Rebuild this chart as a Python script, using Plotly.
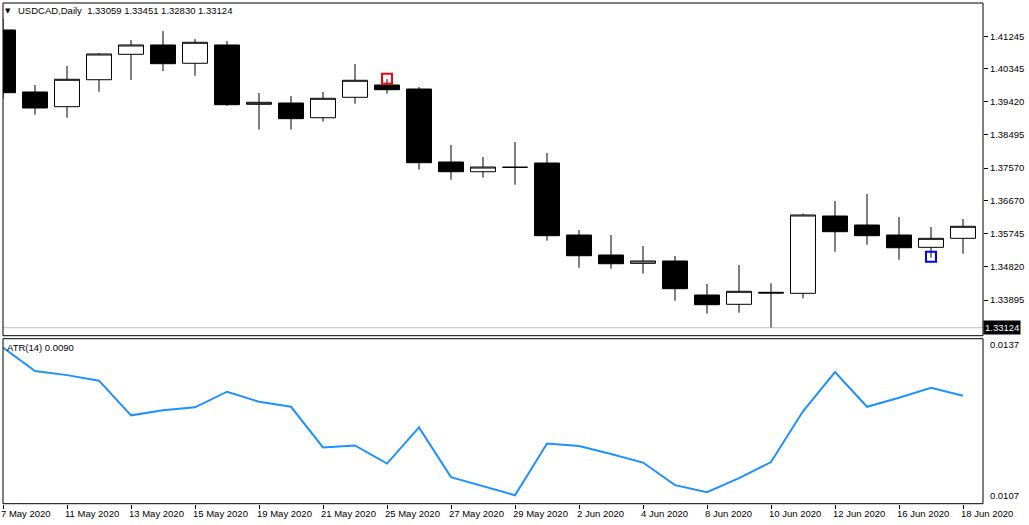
import plotly.graph_objects as go

dates = ['7 May 2020', '8 May 2020', '11 May 2020', '12 May 2020', '13 May 2020', '14 May 2020',
         '15 May 2020', '18 May 2020', '19 May 2020', '20 May 2020', '21 May 2020', '22 May 2020',
         '25 May 2020', '26 May 2020', '27 May 2020', '28 May 2020', '29 May 2020', '1 Jun 2020',
         '2 Jun 2020', '3 Jun 2020', '4 Jun 2020', '5 Jun 2020', '8 Jun 2020', '9 Jun 2020',
         '10 Jun 2020', '11 Jun 2020', '12 Jun 2020', '15 Jun 2020', '16 Jun 2020', '17 Jun 2020',
         '18 Jun 2020']
opens = [1.41421, 1.39693, 1.39283, 1.40035, 1.40743, 1.41003, 1.40493, 1.41003, 1.39350, 1.39386,
         1.38976, 1.39545, 1.39888, 1.39776, 1.37742, 1.37471, 1.37594, 1.37714, 1.35707, 1.35150,
         1.34918, 1.34983, 1.34035, 1.33776, 1.34110, 1.34082, 1.36237, 1.35986, 1.35707, 1.35364,
         1.35615]
highs = [1.41727, 1.39888, 1.40417, 1.40780, 1.41142, 1.41393, 1.41170, 1.41114, 1.39665, 1.39581,
         1.39693, 1.40473, 1.40055, 1.39832, 1.38216, 1.37881, 1.38299, 1.37993, 1.35847, 1.35707,
         1.35401, 1.35122, 1.34342, 1.34871, 1.34361, 1.36301, 1.36655, 1.36850, 1.36209, 1.35930,
         1.36153]
lows = [1.39506, 1.39060, 1.38976, 1.39701, 1.40027, 1.40278, 1.40147, 1.39303, 1.38642, 1.38642,
        1.38865, 1.39367, 1.39645, 1.37527, 1.37248, 1.37304, 1.37109, 1.35548, 1.34796, 1.34768,
        1.34629, 1.33876, 1.33514, 1.33542, 1.33130, 1.33943, 1.35242, 1.35437, 1.35019, 1.35075,
        1.35186]
closes = [1.39673, 1.39247, 1.40047, 1.40752, 1.41003, 1.40481, 1.41078, 1.39339, 1.39406, 1.38949,
          1.39517, 1.40019, 1.39757, 1.37722, 1.37471, 1.37602, 1.37594, 1.35688, 1.35130, 1.34907,
          1.34983, 1.34211, 1.33765, 1.34138, 1.34091, 1.36265, 1.35799, 1.35688, 1.35353, 1.35615,
          1.35950]
atr = [0.01365, 0.01318, 0.01310, 0.01299, 0.01230, 0.01240, 0.01246, 0.01277, 0.01257, 0.01247,
       0.01166, 0.01170, 0.01134, 0.01206, 0.01107, 0.01089, 0.01071, 0.01174, 0.01169, 0.01153,
       0.01136, 0.01091, 0.01077, 0.01105, 0.01137, 0.01238, 0.01316, 0.01247, 0.01265, 0.01285,
       0.01269]

price_ticks = ['1.41245', '1.40345', '1.39420', '1.38495', '1.37570', '1.36670', '1.35745', '1.34820',
               '1.33895']
atr_ticks = ['0.0137', '0.0107']
last_price = 1.33124
header = 'USDCAD,Daily  1.33059 1.33451 1.32830 1.33124'
atr_text = 'ATR(14) 0.0090'
sell_mark = ('25 May 2020', 1.40060)
buy_mark = ('17 Jun 2020', 1.35102)

W, H = 1029, 525
px = lambda v: v / W
py = lambda v: 1 - v / H
left, right = px(3), px(983)
main_top, main_bot = py(3), py(335.7)
ind_top, ind_bot = py(338.7), py(503.7)

fig = go.Figure()
fig.add_trace(go.Candlestick(
    x=dates, open=opens, high=highs, low=lows, close=closes,
    increasing=dict(line=dict(color='black', width=1), fillcolor='white'),
    decreasing=dict(line=dict(color='black', width=1), fillcolor='black'),
    xaxis='x', yaxis='y', showlegend=False, hoverinfo='skip'))
for (d, v), c in [(sell_mark, '#ff0000'), (buy_mark, '#0000ff')]:
    fig.add_trace(go.Scatter(x=[d], y=[v], mode='markers', yaxis='y', showlegend=False,
                             marker=dict(symbol='square-open', size=10, color=c,
                                         line=dict(width=2, color=c))))
fig.add_trace(go.Scatter(x=dates, y=atr, mode='lines', yaxis='y2', showlegend=False,
                         line=dict(color='#1e90ff', width=2)))

shapes = [
    dict(type='line', xref='paper', yref='y', x0=left, x1=right, y0=last_price, y1=last_price,
         line=dict(color='#c0c0c0', width=1), layer='below'),
    dict(type='rect', xref='paper', yref='paper', x0=left, x1=right, y0=main_bot, y1=main_top,
         line=dict(color='black', width=1)),
    dict(type='rect', xref='paper', yref='paper', x0=left, x1=right, y0=ind_bot, y1=ind_top,
         line=dict(color='black', width=1)),
]

annotations = [
    dict(xref='paper', yref='paper', x=px(3), y=py(11), text='\u25bc', showarrow=False,
         xanchor='left', yanchor='middle', font=dict(size=7, family='DejaVu Sans')),
    dict(xref='paper', yref='paper', x=px(16), y=py(11), text=header, showarrow=False,
         xanchor='left', yanchor='middle'),
    dict(xref='paper', yref='paper', x=px(5), y=py(347.5), text=atr_text, showarrow=False,
         xanchor='left', yanchor='middle'),
    dict(xref='paper', yref='y', x=right, y=last_price, text='%.5f' % last_price, showarrow=False,
         xanchor='left', yanchor='middle', bgcolor='black', font=dict(color='white'), borderpad=1),
]
for d in dates[::2]:
    annotations.append(dict(xref='x', yref='paper', x=d, y=py(513), text=d, showarrow=False,
                            xanchor='left', yanchor='middle', xshift=-4))

fig.update_layout(
    width=W, height=H, margin=dict(l=0, r=0, t=0, b=0),
    paper_bgcolor='white', plot_bgcolor='white', hovermode=False,
    font=dict(family='Liberation Sans', size=9.5, color='black'),
    boxgap=0.22, boxgroupgap=0,
    xaxis=dict(domain=[left, right], anchor='y2', range=[0, 30.625], type='category',
               rangeslider=dict(visible=False), showgrid=False, zeroline=False,
               tickvals=dates[::2], ticks='outside', ticklen=4, tickcolor='black',
               showticklabels=False, fixedrange=True),
    yaxis=dict(domain=[main_bot, main_top], anchor='x', side='right',
               range=[1.32901, 1.42173], showgrid=False, zeroline=False,
               tickvals=[float(t) for t in price_ticks], ticktext=price_ticks,
               ticks='outside', ticklen=4, tickcolor='black'),
    yaxis2=dict(domain=[ind_bot, ind_top], anchor='x', side='right',
                range=[0.010541, 0.013825], showgrid=False, zeroline=False,
                tickvals=[float(t) for t in atr_ticks], ticktext=atr_ticks,
                ticks='outside', ticklen=4, tickcolor='rgba(0,0,0,0)'),
    shapes=shapes, annotations=annotations,
)

# page margin would push the chart 8px off the window
fig.write_html('out.html', config={'displayModeBar': False},
               post_script="document.body.style.margin='0';")
